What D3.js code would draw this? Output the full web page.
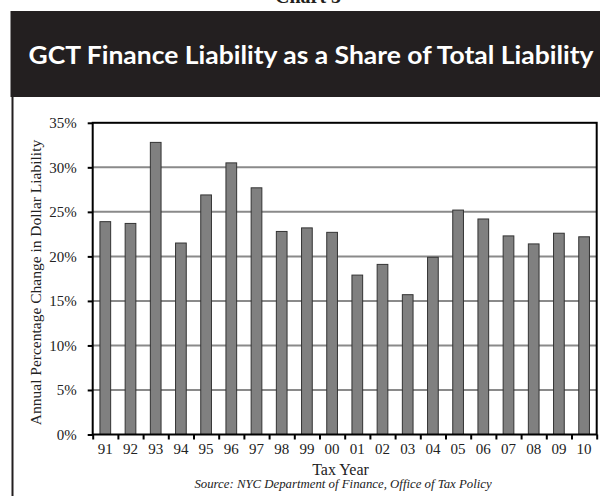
<!DOCTYPE html>
<html>
<head>
<meta charset="utf-8">
<script src="https://cdn.jsdelivr.net/npm/d3@7"></script>
<style>
  body { margin: 0; background: #fff; }
  svg { display: block; }
  .tick text { font-family: "Liberation Serif", serif; font-size: 15px; fill: #222; }
</style>
</head>
<body>
<div id="chart"></div>
<script>
// data
var years = ["91", "92", "93", "94", "95", "96", "97", "98", "99", "00",
             "01", "02", "03", "04", "05", "06", "07", "08", "09", "10"];
var shares = [23.9, 23.7, 32.8, 21.5, 26.9, 30.5, 27.7, 22.8, 23.2, 22.7,
              17.9, 19.1, 15.7, 19.9, 25.2, 24.2, 22.3, 21.4, 22.6, 22.2];
var yTicks = [0, 5, 10, 15, 20, 25, 30, 35];
var chartLabel = "Chart 5";
var chartTitle = "GCT Finance Liability as a Share of Total Liability";
var yTitle = "Annual Percentage Change in Dollar Liability";
var xTitle = "Tax Year";
var sourceNote = "Source: NYC Department of Finance, Office of Tax Policy";

// layout
var width = 600, height = 496;
var plotLeft = 92.7, plotRight = 596.7, plotTop = 122.8, plotBottom = 434.5;

var svg = d3.select("#chart").append("svg")
    .attr("width", width)
    .attr("height", height);

// chart label, mostly cut off at the top
svg.append("text")
    .attr("x", 308)
    .attr("y", 3)
    .attr("text-anchor", "middle")
    .style("font-family", "Liberation Serif, serif")
    .style("font-weight", "bold")
    .style("font-size", "20px")
    .attr("fill", "#231f20")
    .text(chartLabel);

// header box
svg.append("rect")
    .attr("x", 10.5).attr("y", 11)
    .attr("width", width).attr("height", 86)
    .attr("fill", "#231f20");
svg.append("text")
    .attr("x", 28.5)
    .attr("y", 63.5)
    .attr("textLength", 565)
    .attr("lengthAdjust", "spacingAndGlyphs")
    .style("font-family", "Lato, 'Open Sans', sans-serif")
    .style("font-weight", "bold")
    .style("font-size", "24px")
    .attr("fill", "#fff")
    .text(chartTitle);

// frame line on the left
svg.append("line")
    .attr("x1", 12.5).attr("x2", 12.5)
    .attr("y1", 97).attr("y2", height)
    .attr("stroke", "#231f20")
    .attr("stroke-width", 2);

// scales
var x = d3.scaleBand()
    .domain(years)
    .range([plotLeft, plotRight])
    .paddingInner(0.575)
    .paddingOuter(0.2875);
var xEdges = d3.scaleLinear()
    .domain([0, years.length])
    .range([plotLeft, plotRight]);
var y = d3.scaleLinear()
    .domain([0, 35])
    .range([plotBottom, plotTop]);

// gridlines
svg.append("g")
    .selectAll("line")
    .data(yTicks.slice(1, -1)).enter()
    .append("line")
    .attr("x1", plotLeft).attr("x2", plotRight)
    .attr("y1", (d) => y(d)).attr("y2", (d) => y(d))
    .attr("stroke", "#8a8a8a")
    .attr("stroke-width", 2);

// bars
svg.append("g")
    .selectAll("rect")
    .data(shares).enter()
    .append("rect")
    .attr("x", (d, i) => x(years[i]))
    .attr("y", (d) => y(d))
    .attr("width", x.bandwidth())
    .attr("height", (d) => plotBottom - y(d))
    .attr("fill", "#808080")
    .attr("stroke", "#333")
    .attr("stroke-width", 1);

// plot frame
svg.append("rect")
    .attr("x", plotLeft).attr("y", plotTop)
    .attr("width", plotRight - plotLeft)
    .attr("height", plotBottom - plotTop)
    .attr("fill", "none")
    .attr("stroke", "#000")
    .attr("stroke-width", 2);

// y axis
var yAxis = svg.append("g")
    .attr("transform", "translate(" + plotLeft + ",0)")
    .call(d3.axisLeft(y).tickValues(yTicks).tickSize(5).tickPadding(11)
        .tickFormat((d) => d + "%"));
yAxis.select(".domain").remove();
yAxis.selectAll(".tick line").attr("stroke", "#000").attr("stroke-width", 2);

// x axis: labels under bars, ticks at category edges
var xAxis = svg.append("g")
    .attr("transform", "translate(0," + plotBottom + ")")
    .call(d3.axisBottom(x).tickSize(0).tickPadding(9));
xAxis.select(".domain").remove();
var xTickMarks = svg.append("g")
    .attr("transform", "translate(0," + plotBottom + ")")
    .call(d3.axisBottom(xEdges).ticks(years.length).tickSize(5).tickFormat(""));
xTickMarks.select(".domain").remove();
xTickMarks.selectAll(".tick line").attr("stroke", "#000").attr("stroke-width", 2);

// axis titles
svg.append("text")
    .attr("transform", "translate(41," + 282.5 + ") rotate(-90)")
    .attr("text-anchor", "middle")
    .style("font-family", "Liberation Serif, serif")
    .style("font-size", "15.5px")
    .attr("fill", "#222")
    .text(yTitle);
svg.append("text")
    .attr("x", 340.5)
    .attr("y", 475)
    .attr("text-anchor", "middle")
    .style("font-family", "Liberation Serif, serif")
    .style("font-size", "16px")
    .attr("fill", "#222")
    .text(xTitle);
svg.append("text")
    .attr("x", 343)
    .attr("y", 488)
    .attr("text-anchor", "middle")
    .style("font-family", "Liberation Serif, serif")
    .style("font-style", "italic")
    .style("font-size", "12.8px")
    .attr("fill", "#222")
    .text(sourceNote);
</script>
</body>
</html>
